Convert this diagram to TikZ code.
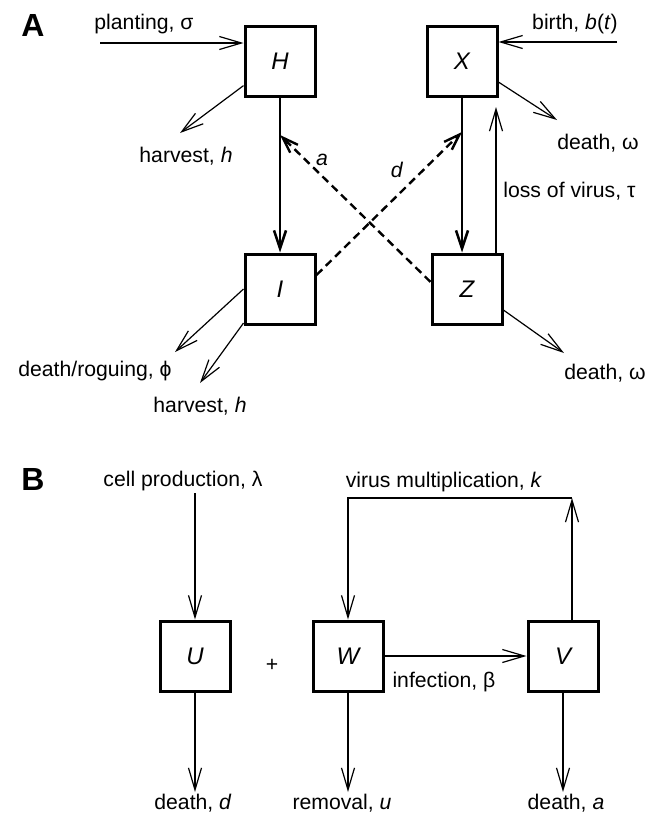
\documentclass[tikz,border=0pt]{standalone}
\usepackage{fontspec}
\setmainfont{Liberation Sans}
\usetikzlibrary{arrows.meta}

\begin{document}
\begin{tikzpicture}[x=0.5pt, y=-0.5pt,
    comp/.style={draw, line width=1.5pt, minimum size=35pt, inner sep=0pt, font=\fontsize{12}{14}\selectfont\itshape},
    lab/.style={inner sep=0pt, font=\fontsize{10.6}{12}\selectfont},
    panel/.style={inner sep=0pt, font=\fontsize{16}{18}\selectfont\bfseries},
    flow/.style={line width=0.6pt, -{Straight Barb[length=11pt,width=6.5pt]}},
    bigflow/.style={line width=1.3pt, -{Straight Barb[length=9pt,width=6pt]}},
    infl/.style={line width=1.2pt, dash pattern=on 4pt off 2.5pt, -{Straight Barb[length=8pt,width=5.5pt]}}]
    \useasboundingbox (0,0) rectangle (648,815);

    % panel A
    \node[panel] (pA) at (33,25) {A};
    \node[comp] (H) at (280,61) {H};
    \node[comp] (X) at (462,61) {X};
    \node[comp] (I) at (280,289) {I};
    \node[comp] (Z) at (467,289) {Z};

    \node[lab] (pl) at (144,24) {planting, σ};
    \node[lab] (hvH) at (186,156) {harvest, \textit{h}};
    \node[lab] (bi) at (575,24) {birth, \textit{b}(\textit{t})};
    \node[lab] (dwX) at (598,143) {death, ω};
    \node[lab, anchor=west] (loss) at (503,191) {loss of virus, τ};
    \node[lab] (drI) at (95,371) {death/roguing, ϕ};
    \node[lab] (hvI) at (200,406) {harvest, \textit{h}};
    \node[lab] (dwZ) at (605,373) {death, ω};
    \node[lab] (la) at (322,160) {\textit{a}};
    \node[lab] (ld) at (397,170) {\textit{d}};

    \coordinate (plS) at (100,43);
    \coordinate (hvHE) at (180,133);
    \coordinate (biS) at (617,42);
    \coordinate (dwXE) at (557,120);
    \coordinate (lossE) at (496,107);
    \coordinate (aE) at (280,135);
    \coordinate (dE) at (462,132);
    \coordinate (drIE) at (175,352);
    \coordinate (hvIE) at (200,383);
    \coordinate (dwZE) at (564,353);

    \draw[flow] (plS) -- (plS -| H.west);
    \draw[flow] (H.214) -- (hvHE);
    \draw[flow] (biS) -- (biS -| X.east);
    \draw[flow] (X.-30) -- (dwXE);
    \draw[flow] (Z.north -| lossE) -- (lossE);
    \draw[flow] (I.west) -- (drIE);
    \draw[flow] (I.223) -- (hvIE);
    \draw[flow] (Z.-30) -- (dwZE);
    \draw[bigflow] (H) -- (I);
    \draw[bigflow] (X.south) -- (X.south |- Z.north);
    \draw[infl] (Z.169) -- (aE);
    \draw[infl] (I.21) -- (dE);

    % panel B
    \node[panel] (pB) at (33,479) {B};
    \node[comp] (U) at (195,656) {U};
    \node[comp] (W) at (348,656) {W};
    \node[comp] (V) at (563,656) {V};

    \node[lab] (cell) at (183,481) {cell production, λ};
    \node[lab] (plus) at (272,665) {+};
    \node[lab] (vm) at (444,482) {virus multiplication, \textit{k}};
    \node[lab] (inf) at (444,682) {infection, β};
    \node[lab] (dd) at (193,803) {death, \textit{d}};
    \node[lab] (rem) at (342,803) {removal, \textit{u}};
    \node[lab] (da) at (566,803) {death, \textit{a}};

    \coordinate (cellS) at (195,493);
    \coordinate (kC) at (572,498);
    \coordinate (ddE) at (195,792);
    \coordinate (remE) at (348,792);
    \coordinate (daE) at (563,792);

    \draw[flow] (cellS) -- (U);
    \draw[flow] (U) -- (ddE);
    \draw[flow] (V.north -| kC) -- (kC);
    \draw[flow] (kC) -| (W.north);
    \draw[flow] (W) -- (V);
    \draw[flow] (W) -- (remE);
    \draw[flow] (V) -- (daE);
\end{tikzpicture}
\end{document}
